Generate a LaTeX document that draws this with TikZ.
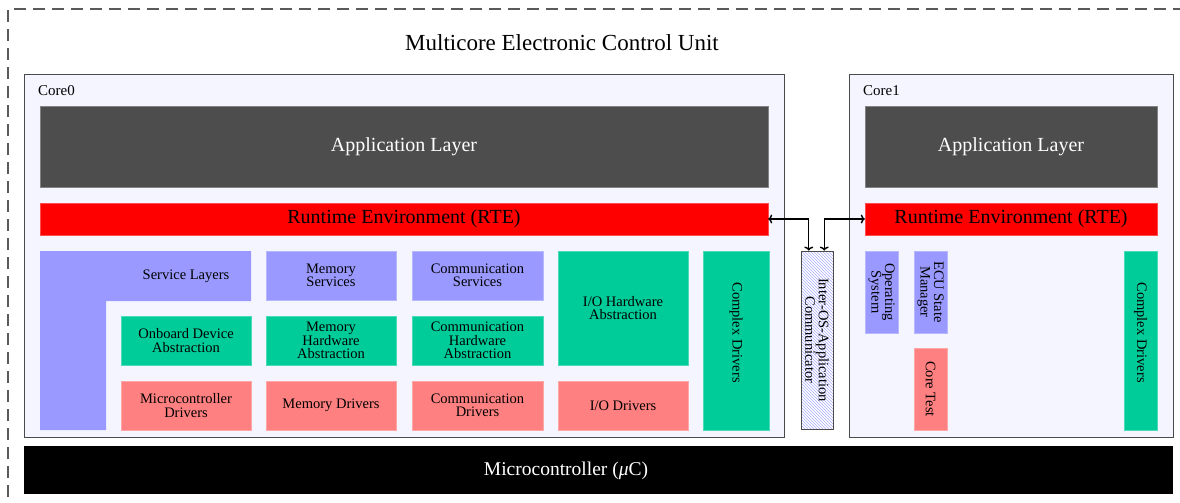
\documentclass[tikz,border=0pt]{standalone}
\usepackage{fontspec}
\setmainfont{Liberation Serif}
\usetikzlibrary{calc,patterns,arrows.meta}
\definecolor{svc}{HTML}{9999FF}
\definecolor{hwa}{HTML}{00CC99}
\definecolor{drv}{HTML}{FF8080}
\definecolor{rtered}{HTML}{FF0000}
\definecolor{appgray}{HTML}{4D4D4D}
\definecolor{corebg}{HTML}{F5F5FF}
\definecolor{coreline}{HTML}{4A4A4A}
\definecolor{dashgray}{HTML}{5A5A5A}
\newcommand\blk[7]{\node[blk,#6,minimum width={(#4)-(#2)},minimum height={(#5)-(#3)}] (#1) at ({((#2)+(#4))/2},{((#3)+(#5))/2}) {#7};}
\begin{document}
\begin{tikzpicture}[x=1pt,y=-1pt,
  blk/.style={inner sep=0pt, align=center, font=\fontsize{14.5}{13.5}\selectfont},
  corebox/.style={fill=corebg, draw=coreline, line width=0.9pt},
  svcbox/.style={fill=svc, draw=svc!70!white, line width=0.4pt},
  hwabox/.style={fill=hwa, draw=hwa!70!white, line width=0.4pt},
  drvbox/.style={fill=drv, draw=drv!70!white, line width=0.4pt},
  appbox/.style={fill=appgray, draw=appgray!70!white, line width=0.4pt, text=white, font=\fontsize{20}{20}\selectfont},
  rtebox/.style={fill=rtered, draw=rtered!70!white, line width=0.4pt, font=\fontsize{20}{20}\selectfont},
  iocbox/.style={preaction={fill=white}, pattern=north west lines, pattern color=svc!80!white, draw=coreline, line width=0.9pt},
  mcbox/.style={fill=black},
  mctext/.style={inner sep=0pt, text=white, font=\fontsize{19.5}{19.5}\selectfont},
  vtext/.style={rotate=-90, align=center, inner sep=0pt, font=\fontsize{14.5}{13.5}\selectfont},
  lbl/.style={anchor=base west, inner sep=0pt, font=\fontsize{15}{15}\selectfont},
  link/.style={{To[length=4pt,width=9pt]}-{To[length=4pt,width=9pt]}, line width=1.4pt},
]
\useasboundingbox (0,0) rectangle (1180,503);
\begin{scope}
  \clip (0,0) rectangle (1180,503);
  \draw[dashgray, line width=1.2pt, dash pattern=on 12pt off 7pt] (8,1200) -- (8,9) -- (1300,9);
\end{scope}
\node[anchor=base, inner sep=0pt, font=\fontsize{23}{23}\selectfont] (title) at (562,51) {Multicore Electronic Control Unit};

% Core 0
\blk{core0}{24}{74}{784}{437}{corebox}{}
\node[lbl] (c0lbl) at (38,95) {Core0};
\blk{app0}{40}{106}{768}{187}{appbox}{Application Layer}
\blk{rte0}{40}{203}{768}{235}{rtebox}{Runtime Environment (RTE)}
\fill[svc] (40,251) -| (251,301) -| (106,430) -| cycle;
\node[blk] (svl) at (186,276) {Service Layers};
\blk{obd}{121}{316}{251}{365}{hwabox}{Onboard Device\\Abstraction}
\blk{mcd}{121}{381}{251}{430}{drvbox}{Microcontroller\\Drivers}
\blk{mems}{266}{251}{396}{300}{svcbox}{Memory\\Services}
\blk{memh}{266}{316}{396}{365}{hwabox}{Memory\\Hardware\\Abstraction}
\blk{memd}{266}{381}{396}{430}{drvbox}{Memory Drivers}
\blk{coms}{412}{251}{543}{300}{svcbox}{Communication\\Services}
\blk{comh}{412}{316}{543}{365}{hwabox}{Communication\\Hardware\\Abstraction}
\blk{comd}{412}{381}{543}{430}{drvbox}{Communication\\Drivers}
\blk{ioh}{558}{251}{688}{365}{hwabox}{I/O Hardware\\Abstraction}
\blk{iod}{558}{381}{688}{430}{drvbox}{I/O Drivers}
\blk{cdr0}{703}{251}{769}{430}{hwabox}{}
\node[vtext] (cdr0t) at ($(cdr0.center)+(0,-8)$) {Complex Drivers};

% Inter-OS communicator
\blk{ioc}{801}{251}{833}{429}{iocbox}{}
\node[vtext] (ioct) at (ioc.center) {Inter-OS-Application\\Communicator};

% Core 1
\blk{core1}{849}{74}{1173}{437}{corebox}{}
\node[lbl] (c1lbl) at (863,95) {Core1};
\blk{app1}{865}{106}{1157}{187}{appbox}{Application Layer}
\blk{rte1}{865}{203}{1157}{235}{rtebox}{Runtime Environment (RTE)}
\blk{os}{865}{251}{898}{333}{svcbox}{}
\node[vtext] (ost) at (os.center) {Operating\\System};
\blk{ecum}{914}{251}{947}{333}{svcbox}{}
\node[vtext] (ecumt) at (ecum.center) {ECU State\\Manager};
\blk{ct}{914}{348}{947}{430}{drvbox}{}
\node[vtext] (ctt) at (ct.center) {Core Test};
\blk{cdr1}{1124}{251}{1157}{430}{hwabox}{}
\node[vtext] (cdr1t) at ($(cdr1.center)+(0,-8)$) {Complex Drivers};

% Microcontroller
\blk{mc}{24}{446}{1173}{494}{mcbox}{}
\node[mctext, anchor=base] (mct) at (566,475) {Microcontroller (\textit{μ}C)};

% Links
\draw[link] (rte0.east) -| ($(ioc.north west)!0.25!(ioc.north east)$);
\draw[link] ($(ioc.north west)!0.72!(ioc.north east)$) |- (rte1.west);
\end{tikzpicture}
\end{document}
